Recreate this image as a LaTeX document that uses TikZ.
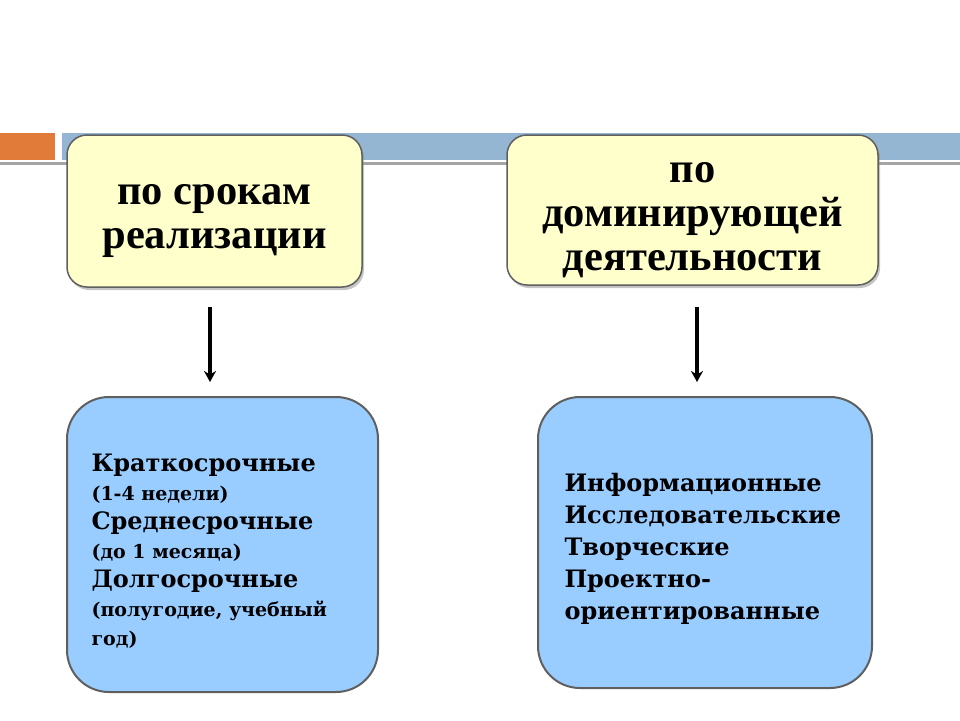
\documentclass[tikz,border=0pt]{standalone}
\usepackage{fontspec}
\setmainfont{Liberation Serif}
\newfontfamily\kindfont{DejaVu Serif}
\usetikzlibrary{arrows.meta,shadows}
\definecolor{barorange}{HTML}{E07B39}
\definecolor{barblue}{HTML}{94B6D2}
\definecolor{bargray}{HTML}{A5A5A5}
\definecolor{headfill}{HTML}{FFFFCC}
\definecolor{kindfill}{HTML}{99CCFF}
\definecolor{edgegray}{HTML}{5F5F5F}

\begin{document}
\begin{tikzpicture}[x=1pt,y=-1pt,
  head/.style={draw=edgegray,line width=1.5pt,fill=headfill,rounded corners=20pt,
    drop shadow={shadow xshift=2pt,shadow yshift=-3pt,fill=black!45}},
  headtext/.style={align=center,font=\bfseries\fontsize{42.5}{44}\selectfont},
  kind/.style={draw=edgegray,line width=2pt,fill=kindfill,rounded corners=42pt},
  kindtext/.style={align=left,anchor=west,font=\kindfont\bfseries\fontsize{24}{29}\selectfont},
  arr/.style={line width=3.2pt,-{Stealth[length=11pt,width=12pt]}}]
            \useasboundingbox (0,0) rectangle (960,720);
            \fill[barorange] (0,133) rectangle (55,160);
            \fill[barblue] (62,133) rectangle (960,160);
            \fill[bargray] (0,161.5) rectangle (960,164.5);
            \node[head,minimum width=295pt,minimum height=152pt] (srok) at (214.5,211) {};
            \node[head,minimum width=371pt,minimum height=150pt] (dom) at (692.5,210) {};
            \node[headtext] (srokt) at ([yshift=-10pt]srok.center) {по срокам\\реализации};
            \node[headtext] (domt) at ([yshift=-10pt]dom.center) {по\\доминирующей\\деятельности};
            \node[kind,minimum width=311pt,minimum height=295pt] (kind1) at (222.5,544.5) {};
            \node[kind,minimum width=334pt,minimum height=291pt] (kind2) at (705,542.5) {};
            \node[kindtext] (kind1t) at (88,551)
              {Краткосрочные\\{\fontsize{19}{27}\selectfont (1-4 недели)}\\Среднесрочные\\{\fontsize{19}{27}\selectfont (до 1 месяца)}\\Долгосрочные\\{\fontsize{19}{27}\selectfont (полугодие, учебный}\\{\fontsize{19}{27}\selectfont год)}};
            \node[kindtext,font=\kindfont\bfseries\fontsize{24}{32}\selectfont] (kind2t) at (561,549)
              {Информационные\\Исследовательские\\Творческие\\Проектно-\\ориентированные};
            \coordinate (a1) at (210,307);
            \coordinate (b1) at (210,382);
            \coordinate (a2) at (697,307);
            \coordinate (b2) at (697,382);
              \draw[arr] (a1)--(b1);
              \draw[arr] (a2)--(b2);
            \end{tikzpicture}
\end{document}
